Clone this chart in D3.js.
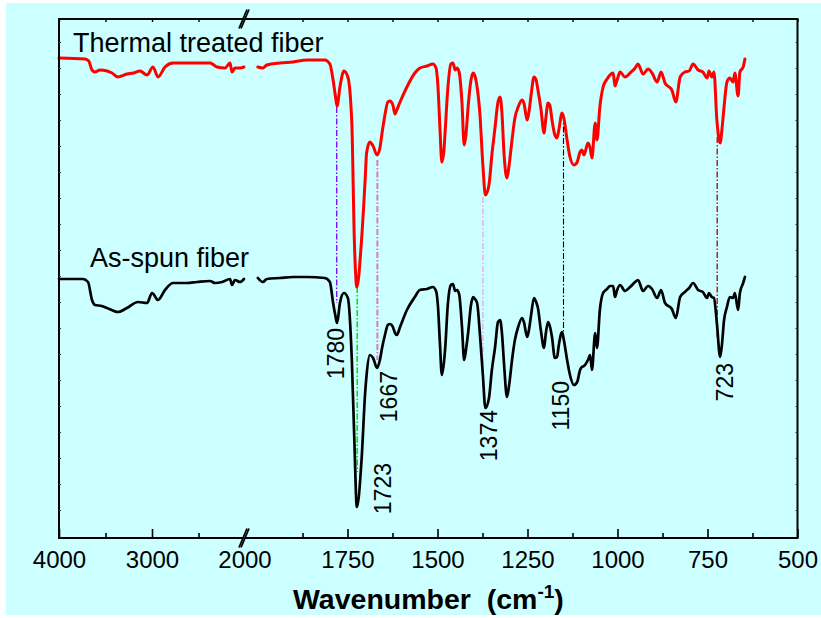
<!DOCTYPE html>
<html>
<head>
<meta charset="utf-8">
<script src="https://cdn.jsdelivr.net/npm/d3@7"></script>
<style>
  html, body { margin: 0; padding: 0; background: #ffffff; }
  svg { display: block; }
  text { font-family: "Liberation Sans", Arial, Helvetica, sans-serif; fill: #000; }
</style>
</head>
<body>
<svg id="chart" width="821" height="618"></svg>
<script>
// ---------------- FTIR spectra (transmittance, arbitrary units, offset) ----------------

// 4000–2000 cm-1 region
const wnHighThermal = [4000,3720,3680,3645,3613,3560,3484,3430,3366,3269,3200,3129,3054,2989,2935,2860,2774,2667,2516,2376,2301,2215,2161,2140,2108,2054,2011];
const thermalHigh   = [480,479,477,468,466,468,467,465,461,464,465,467,463,471,461,471,475,475,475,475,471,470,475,466,470,470,471];

const wnHighSpun = [4000,3742,3688,3645,3613,3540,3484,3366,3269,3151,3054,2999,2935,2860,2774,2624,2516,2376,2323,2247,2161,2140,2108,2054,2011];
const spunHigh   = [259,259,256,238,233,232,230,226,230,236,235,245,238,248,255,255,256,257,255,256,259,253,258,256,259];

// 2000–500 cm-1 region (both spectra share the same sampling)
const wnLow = [
  1999,1985,1974,1938,1901,1863,1813,1799,1790,1784,
  1779,1771,1760,1749,1738,1731,1724,1711,1701,1697,
  1688,1679,1668,1660,1654,1646,1638,1632,1624,1618,
  1613,1604,1585,1563,1549,1529,1513,1504,1499,1493,
  1488,1482,1479,1471,1463,1457,1451,1446,1440,1432,
  1426,1421,1415,1407,1401,1396,1390,1382,1374,1367,
  1357,1349,1340,1332,1326,1321,1315,1307,1301,1293,
  1285,1276,1265,1260,1251,1246,1240,1232,1226,1221,
  1213,1204,1199,1193,1188,1182,1174,1168,1163,1154,
  1149,1140,1132,1121,1112,1104,1099,1093,1082,1076,
  1071,1062,1057,1049,1040,1029,1021,1012,1007,1001,
  993,979,965,951,943,929,915,904,890,879,
  868,849,838,826,813,801,790,776,763,751,
  746,738,732,724,715,710,704,696,688,679,
  674,665,660,651,646
];
const thermalLow = [
  471,470,473,475,476,478,478,474,458,443,
  432,451,467,461,415,298,251,298,358,385,
  396,392,383,390,405,423,436,437,433,424,
  428,436,451,465,470,472,474,470,453,408,
  376,388,405,451,474,475,468,470,466,435,
  393,403,431,458,465,462,451,423,373,343,
  353,383,411,436,441,425,383,360,373,398,
  420,431,438,435,418,426,443,461,458,448,
  430,405,420,435,433,418,403,400,408,425,
  420,398,381,373,376,386,388,383,395,390,
  380,415,398,431,451,459,463,465,452,458,
  466,461,465,470,474,464,469,465,456,466,
  455,448,436,461,466,467,474,468,466,460,
  467,461,466,418,395,408,431,456,460,456,
  465,442,466,471,479
];
const spunLow = [
  260,256,259,260,261,261,260,256,235,223,
  215,235,245,240,178,98,31,78,145,163,
  183,180,170,178,190,203,213,214,211,205,
  203,211,228,241,248,249,251,247,233,193,
  163,176,188,235,253,254,247,248,244,211,
  178,188,205,233,241,239,235,203,163,130,
  140,168,191,216,218,205,173,141,153,178,
  198,211,220,216,201,208,223,240,236,230,
  208,190,205,216,212,201,180,181,193,206,
  198,178,163,153,156,168,171,172,178,183,
  168,205,190,228,245,249,252,252,241,248,
  253,247,251,256,258,247,252,249,240,248,
  235,229,220,241,246,250,255,248,246,240,
  245,241,240,215,181,193,218,231,241,240,
  245,228,245,255,261
];

// Assigned bands: guide line runs from the upper spectrum down towards the lower one
const peakWn     = [1780, 1723, 1667, 1374, 1150, 723];
const peakTop    = [431, 251, 378, 341, 423, 401];
const peakBottom = [235, 66, 178, 150, 206, 201];

// Axis tick values
const ticksHighMajor = [4000, 3000, 2000];
const ticksHighMinor = [3500, 2500];
const ticksLowMajor  = [1750, 1500, 1250, 1000, 750, 500];
const ticksLowMinor  = [1875, 1625, 1375, 1125, 875, 625];

const seriesNames = ["Thermal treated fiber", "As-spun fiber"];

// ---------------- layout & styles ----------------
const frame = { left: 59, right: 797.5, top: 19, bottom: 538 };
const breakAt = 245;           // where the 4000–2000 segment ends
const lowStart = 257.5;        // where the 2000–500 segment starts

const guideStyle = [
  { color: "#7a00ff", width: 1.3 },
  { color: "#00e000", width: 1.5 },
  { color: "#e07ac0", width: 2.0 },
  { color: "#e4b4ee", width: 1.6 },
  { color: "#000000", width: 1.1 },
  { color: "#b00000", width: 1.3 }
];
// label anchor: baseline x offset from the guide, and top y of the rotated text
const labelPos = [
  { dx: 7,  top: 328 },
  { dx: 34, top: 463 },
  { dx: 20, top: 371 },
  { dx: 14, top: 410 },
  { dx: 5,  top: 381 },
  { dx: 16, top: 363 }
];

const svg = d3.select("#chart");

svg.append("rect")
  .attr("x", 6).attr("y", 3).attr("width", 815).attr("height", 612)
  .attr("fill", "#ccffff");

// scales: broken wavenumber axis
const xHigh = d3.scaleLinear().domain([4000, 2000]).range([frame.left, breakAt]);
const xLow  = d3.scaleLinear().domain([2000, 500]).range([lowStart, frame.right]);
const y     = d3.scaleLinear().domain([0, 520]).range([frame.bottom, frame.bottom - 520]);

const pairs = (wn, vals) => wn.map((w, i) => ({ w, v: vals[i] }));
const lineHigh = d3.line().x(d => xHigh(d.w)).y(d => y(d.v)).curve(d3.curveMonotoneX);
const lineLow  = d3.line().x(d => xLow(d.w)).y(d => y(d.v)).curve(d3.curveMonotoneX);

// guide lines between corresponding bands
const guides = svg.append("g");
peakWn.forEach((w, i) => {
  guides.append("line")
    .attr("x1", xLow(w)).attr("x2", xLow(w))
    .attr("y1", y(peakTop[i])).attr("y2", y(peakBottom[i]))
    .attr("stroke", guideStyle[i].color)
    .attr("stroke-width", guideStyle[i].width)
    .attr("stroke-dasharray", "6,2,1.5,2");
});

// spectra
const curves = svg.append("g").attr("fill", "none").attr("stroke-linejoin", "round").attr("stroke-linecap", "round");
curves.append("path").attr("d", lineHigh(pairs(wnHighThermal, thermalHigh))).attr("stroke", "#ff0000").attr("stroke-width", 3);
curves.append("path").attr("d", lineLow(pairs(wnLow, thermalLow))).attr("stroke", "#ff0000").attr("stroke-width", 3);
curves.append("path").attr("d", lineHigh(pairs(wnHighSpun, spunHigh))).attr("stroke", "#000000").attr("stroke-width", 2.7);
curves.append("path").attr("d", lineLow(pairs(wnLow, spunLow))).attr("stroke", "#000000").attr("stroke-width", 2.7);

// band labels (rotated)
peakWn.forEach((w, i) => {
  const bx = xLow(w) + labelPos[i].dx;
  svg.append("text")
    .attr("transform", `translate(${bx},${labelPos[i].top}) rotate(-90)`)
    .attr("text-anchor", "end")
    .attr("font-size", 23)
    .text(w);
});

// series names
svg.append("text").attr("x", 73).attr("y", 52).attr("font-size", 27).text(seriesNames[0]);
svg.append("text").attr("x", 90).attr("y", 267).attr("font-size", 27).text(seriesNames[1]);

// frame
svg.append("rect")
  .attr("x", frame.left).attr("y", frame.top)
  .attr("width", frame.right - frame.left).attr("height", frame.bottom - frame.top)
  .attr("fill", "none").attr("stroke", "#000").attr("stroke-width", 2);

// bottom axes (ticks pointing inward) plus matching top ticks
function bottomAxis(scale, major, minor) {
  const g = svg.append("g").attr("transform", `translate(0,${frame.bottom})`);
  g.append("g")
    .call(d3.axisBottom(scale).tickValues(major).tickSize(-9).tickPadding(13).tickFormat(d3.format("d")))
    .call(a => a.select(".domain").remove())
    .call(a => a.selectAll("line").attr("stroke-width", 1.6))
    .call(a => a.selectAll("text").attr("font-size", 24).attr("font-family", "Liberation Sans, Arial, sans-serif"));
  g.append("g")
    .call(d3.axisBottom(scale).tickValues(minor).tickSize(-5).tickFormat(""))
    .call(a => a.select(".domain").remove())
    .call(a => a.selectAll("line").attr("stroke-width", 1.6));
  const t = svg.append("g").attr("transform", `translate(0,${frame.top})`);
  t.append("g")
    .call(d3.axisTop(scale).tickValues(major.concat(minor)).tickSize(-3).tickFormat(""))
    .call(a => a.select(".domain").remove())
    .call(a => a.selectAll("line").attr("stroke-width", 1.4));
}
bottomAxis(xHigh, ticksHighMajor.filter(d => d !== 2000), ticksHighMinor);
bottomAxis(xLow, ticksLowMajor, ticksLowMinor);

// single "2000" label at the break
svg.append("text")
  .attr("x", xHigh(2000)).attr("y", frame.bottom + 13).attr("dy", "0.71em")
  .attr("text-anchor", "middle").attr("font-size", 24)
  .text("2000");

// vertical side ticks (unlabelled)
const yTicks = d3.range(28, 520, 26);
svg.append("g").attr("transform", `translate(${frame.left},0)`)
  .call(d3.axisLeft(y).tickValues(yTicks).tickSize(-2).tickFormat(""))
  .call(a => a.select(".domain").remove())
  .call(a => a.selectAll("line").attr("stroke-width", 1).attr("stroke", "#333"));
svg.append("g").attr("transform", `translate(${frame.right},0)`)
  .call(d3.axisRight(y).tickValues(yTicks).tickSize(-2).tickFormat(""))
  .call(a => a.select(".domain").remove())
  .call(a => a.selectAll("line").attr("stroke-width", 1).attr("stroke", "#333"));

// axis break marks
const bx = xHigh(2000) - 2;
[frame.top, frame.bottom].forEach(yy => {
  [0, 2].forEach(off => {
    svg.append("line")
      .attr("x1", bx - 4 + off).attr("y1", yy + 9.5)
      .attr("x2", bx + 4 + off).attr("y2", yy - 9.5)
      .attr("stroke", "#000").attr("stroke-width", 1.8);
  });
});

// axis title
const title = svg.append("text")
  .attr("x", 293).attr("y", 609)
  .attr("font-size", 28.5).attr("font-weight", "bold")
  .attr("xml:space", "preserve")
  .style("white-space", "pre");
title.append("tspan").text("Wavenumber  (cm");
title.append("tspan").attr("font-size", 19).attr("dy", -11).text("-1");
title.append("tspan").attr("dy", 11).text(")");
</script>
</body>
</html>
